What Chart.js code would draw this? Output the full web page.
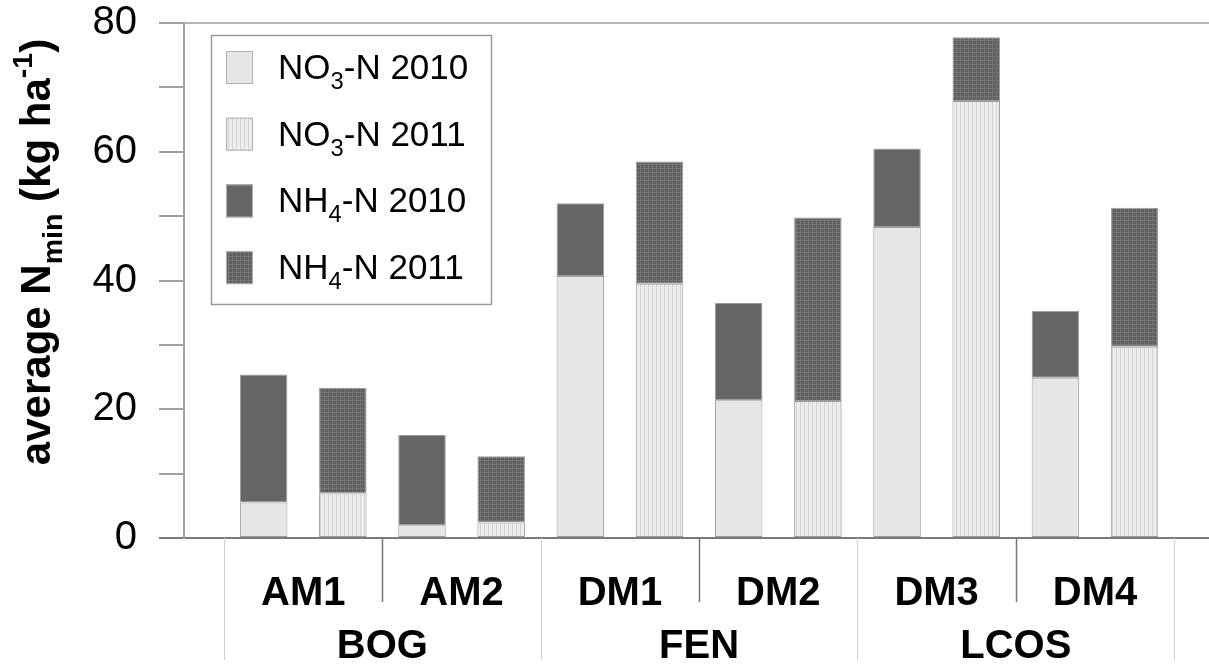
<!DOCTYPE html>
<html>
<head>
<meta charset="utf-8">
<script src="https://cdn.jsdelivr.net/npm/chart.js@4.4.0/dist/chart.umd.min.js"></script>
<style>
  html, body { margin: 0; padding: 0; background: #fff; }
</style>
</head>
<body>
<canvas id="c" width="1209" height="666"></canvas>
<script>
// values (kg ha-1)
const sites = ['AM1', 'AM2', 'DM1', 'DM2', 'DM3', 'DM4'];
const groups = ['BOG', 'FEN', 'LCOS'];          // two sites each
const no3_2010 = [5.5, 2.0, 40.7, 21.4, 48.3, 24.9];
const nh4_2010 = [19.9, 14.0, 11.3, 15.1, 12.2, 10.4];
const no3_2011 = [6.9, 2.4, 39.5, 21.3, 67.9, 29.7];
const nh4_2011 = [16.4, 10.3, 19.0, 28.5, 9.9, 21.6];
const yLabels = [0, 20, 40, 60, 80];

const FONT = '"Liberation Sans", Arial, sans-serif';
const canvas = document.getElementById('c');
const ctx = canvas.getContext('2d');

function pattern(base, line, grid) {
  const p = document.createElement('canvas');
  p.width = 4; p.height = 4;
  const g = p.getContext('2d');
  g.fillStyle = base; g.fillRect(0, 0, 4, 4);
  g.fillStyle = line;
  g.fillRect(0, 0, 1, 4);
  if (grid) g.fillRect(0, 0, 4, 1);
  return ctx.createPattern(p, 'repeat');
}

const fillNo3_10 = '#e6e6e6';
const fillNo3_11 = pattern('#ececec', '#d2d2d2', false);
const fillNh4_10 = '#656565';
const fillNh4_11 = pattern('#606060', '#747474', true);

const xy = arr => arr.map((v, i) => ({ x: i, y: v }));

// text with sub/superscripts: parts = [[text, 0|-1|1], ...]
function richWidth(g, parts, size, weight) {
  let w = 0;
  for (const [t, s] of parts) {
    g.font = weight + ' ' + (s ? size * 0.68 : size) + 'px ' + FONT;
    w += g.measureText(t).width;
  }
  return w;
}
function drawRich(g, parts, x, y, size, weight) {
  for (const [t, s] of parts) {
    const fs = s ? size * 0.68 : size;
    g.font = weight + ' ' + fs + 'px ' + FONT;
    const dy = s === -1 ? size * 0.28 : (s === 1 ? -size * 0.42 : 0);
    g.fillText(t, x, y + dy);
    x += g.measureText(t).width;
  }
}

const legendItems = [
  { parts: [['NO', 0], ['3', -1], ['-N 2010', 0]], fill: fillNo3_10 },
  { parts: [['NO', 0], ['3', -1], ['-N 2011', 0]], fill: fillNo3_11 },
  { parts: [['NH', 0], ['4', -1], ['-N 2010', 0]], fill: fillNh4_10 },
  { parts: [['NH', 0], ['4', -1], ['-N 2011', 0]], fill: fillNh4_11 }
];

const decor = {
  id: 'decor',
  afterDraw(chart) {
    const g = chart.ctx;
    const a = chart.chartArea;
    const xs = chart.scales.x;
    g.save();

    // category separators under the axis
    g.lineWidth = 1.5;
    g.strokeStyle = '#777';
    for (let i = 0; i < sites.length; i += 2) {
      const px = Math.round(xs.getPixelForValue(i + 0.5)) + 0.5;
      g.beginPath(); g.moveTo(px, a.bottom); g.lineTo(px, a.bottom + 64); g.stroke();
    }
    g.lineWidth = 1;
    g.strokeStyle = '#cfcfcf';
    for (let i = -1; i < sites.length; i += 2) {
      const px = Math.round(xs.getPixelForValue(i + 0.5)) + 0.5;
      g.beginPath(); g.moveTo(px, a.bottom); g.lineTo(px, a.bottom + 122); g.stroke();
    }

    // two-level category labels
    g.fillStyle = '#000';
    g.textAlign = 'center';
    g.textBaseline = 'middle';
    g.font = 'bold 40px ' + FONT;
    sites.forEach((s, i) => g.fillText(s, xs.getPixelForValue(i), a.bottom + 56));
    groups.forEach((s, i) => g.fillText(s, xs.getPixelForValue(2 * i + 0.5), a.bottom + 109));

    // rotated axis title
    const tparts = [['average N', 0], ['min', -1], [' (kg ha', 0], ['-1', 1], [')', 0]];
    g.save();
    g.translate(50, 252);
    g.rotate(-Math.PI / 2);
    g.textAlign = 'left';
    g.textBaseline = 'alphabetic';
    const tw = richWidth(g, tparts, 42, 'bold');
    drawRich(g, tparts, -tw / 2, 0, 42, 'bold');
    g.restore();

    // legend box
    const lx = a.left + 27, ly = a.top + 12, lw = 280, lh = 269;
    g.fillStyle = '#fff';
    g.fillRect(lx, ly, lw, lh);
    g.strokeStyle = '#9a9a9a';
    g.lineWidth = 1.5;
    g.strokeRect(lx + 0.5, ly + 0.5, lw, lh);
    g.textAlign = 'left';
    g.textBaseline = 'alphabetic';
    legendItems.forEach((it, k) => {
      const cy = ly + 32 + k * 66.7;
      g.fillStyle = it.fill;
      g.fillRect(lx + 15, cy - 16, 27, 33);
      g.strokeStyle = '#b0b0b0';
      g.lineWidth = 1;
      g.strokeRect(lx + 15.5, cy - 15.5, 26, 32);
      g.fillStyle = '#000';
      drawRich(g, it.parts, lx + 67, cy + 12, 35, 'normal');
    });
    g.restore();
  }
};

const barStyle = { borderColor: '#9c9c9c', borderWidth: 1, borderSkipped: false,
                   categoryPercentage: 1, barPercentage: 0.6 };

new Chart(ctx, {
  type: 'bar',
  data: {
    datasets: [
      Object.assign({ label: 'NO3-N 2010', data: xy(no3_2010), stack: '2010', backgroundColor: fillNo3_10 }, barStyle),
      Object.assign({ label: 'NH4-N 2010', data: xy(nh4_2010), stack: '2010', backgroundColor: fillNh4_10 }, barStyle),
      Object.assign({ label: 'NO3-N 2011', data: xy(no3_2011), stack: '2011', backgroundColor: fillNo3_11 }, barStyle),
      Object.assign({ label: 'NH4-N 2011', data: xy(nh4_2011), stack: '2011', backgroundColor: fillNh4_11 }, barStyle)
    ]
  },
  options: {
    responsive: false,
    animation: false,
    layout: { padding: { top: 23, bottom: 128, left: 0, right: 0 } },
    plugins: { legend: { display: false }, tooltip: { enabled: false } },
    scales: {
      x: {
        type: 'linear',
        offset: false,
        min: -0.753,
        max: 5.72,
        ticks: { display: false },
        grid: { display: false },
        border: { display: true, color: '#7a7a7a', width: 2 },
        afterBuildTicks: s => { s.ticks = sites.map((_, i) => ({ value: i })); },
        afterFit: s => { s.height = 0; s.paddingLeft = 0; s.paddingRight = 0; }
      },
      y: {
        stacked: true,
        min: 0,
        max: 80,
        ticks: {
          stepSize: 10,
          autoSkip: false,
          padding: 22,
          color: '#000',
          font: { family: FONT, size: 40, lineHeight: 1.15 },
          callback: v => (yLabels.includes(v) ? v : '')
        },
        grid: {
          drawOnChartArea: true,
          tickLength: 25,
          lineWidth: 2,
          color: c => (c.tick && c.tick.value === 80 ? '#b4b4b4' : 'rgba(0,0,0,0)'),
          tickColor: c => (c.tick && c.tick.value === 0 ? '#7a7a7a' : '#a0a0a0')
        },
        border: { display: true, color: '#a0a0a0', width: 2 },
        afterFit: s => { s.width = 184; s.paddingTop = 0; s.paddingBottom = 0; }
      }
    }
  },
  plugins: [decor]
});
</script>
</body>
</html>
